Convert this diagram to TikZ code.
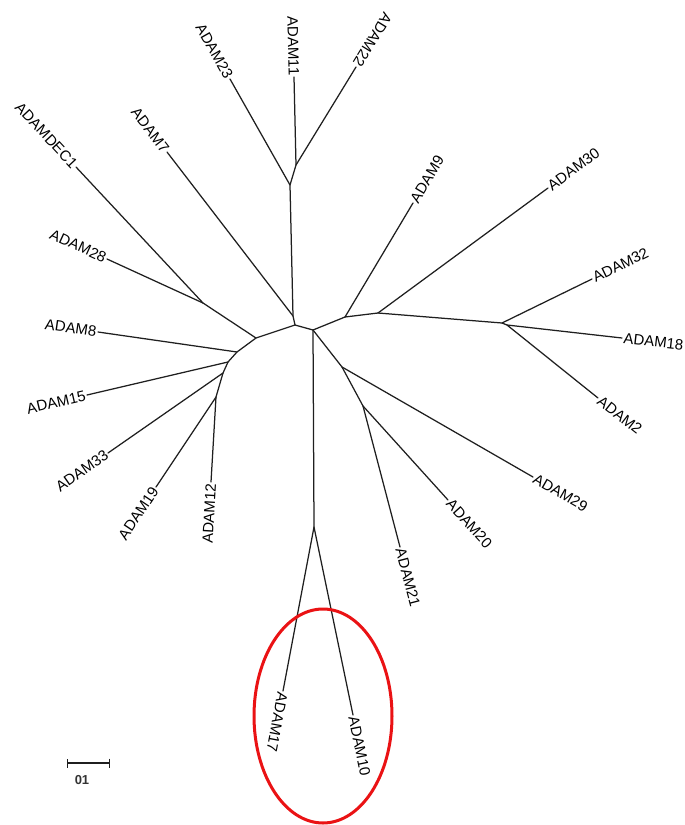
\documentclass[tikz,border=0pt]{standalone}
\usepackage{fontspec}
\setmainfont{Liberation Sans}
\usetikzlibrary{arrows.meta,shapes.geometric}
\definecolor{ringred}{RGB}{234,18,20}
\begin{document}
\begin{tikzpicture}[x=1pt,y=-1pt,
  br/.style={line width=1.25pt, black!88, line cap=round, line join=round},
  lbl/.style={font=\fontsize{15}{15}\selectfont, inner sep=1.5pt, text=black},
  lw/.style={lbl, anchor=west},
  le/.style={lbl, anchor=east}]
\useasboundingbox (0,0) rectangle (685,825);
% internal nodes
\coordinate (C) at (295,325);
\coordinate (J7) at (293,316);
\coordinate (J23) at (290,185);
\coordinate (J11) at (296,165);
\coordinate (JL1) at (256,338);
\coordinate (JD) at (203,303);
\coordinate (J8) at (237,352);
\coordinate (J15) at (228,362);
\coordinate (J33) at (223,373);
\coordinate (J19) at (216,397);
\coordinate (JR) at (313,330);
\coordinate (J9) at (345,317);
\coordinate (J30) at (378,313);
\coordinate (J32) at (502,323);
\coordinate (J18) at (507,325);
\coordinate (J29) at (342,367);
\coordinate (J20) at (363,406);
\coordinate (J17) at (314,527);
% tips
\coordinate (t23) at (230,79);
\coordinate (t11) at (294,77);
\coordinate (t22) at (356,67);
\coordinate (t7) at (167,152);
\coordinate (tDEC) at (76,167);
\coordinate (t28) at (107,259);
\coordinate (t8) at (98,332);
\coordinate (t15) at (87,395);
\coordinate (t33) at (108,453);
\coordinate (t19) at (156,487);
\coordinate (t12) at (211,482);
\coordinate (t9) at (413,203);
\coordinate (t30) at (548,188);
\coordinate (t32) at (592,279);
\coordinate (t18) at (622,338);
\coordinate (t2) at (598,398);
\coordinate (t29) at (533,477);
\coordinate (t20) at (448,500);
\coordinate (t21) at (400,547);
\coordinate (t17) at (283,691);
\coordinate (t10) at (353,715);
% branches
\draw[br] (C) -- (J7) -- (J23) -- (J11) -- (t11);
\draw[br] (J11) -- (t22);
\draw[br] (J23) -- (t23);
\draw[br] (J7) -- (t7);
\draw[br] (C) -- (JL1) -- (JD) -- (tDEC);
\draw[br] (JD) -- (t28);
\draw[br] (JL1) -- (J8) -- (t8);
\draw[br] (J8) -- (J15) -- (t15);
\draw[br] (J15) -- (J33) -- (t33);
\draw[br] (J33) -- (J19) -- (t19);
\draw[br] (J19) -- (t12);
\draw[br] (C) -- (JR) -- (J9) -- (t9);
\draw[br] (J9) -- (J30) -- (t30);
\draw[br] (J30) -- (J32) -- (t32);
\draw[br] (J32) -- (J18) -- (t18);
\draw[br] (J18) -- (t2);
\draw[br] (JR) -- (J29) -- (t29);
\draw[br] (J29) -- (J20) -- (t20);
\draw[br] (J20) -- (t21);
\draw[br] (JR) -- (J17) -- (t17);
\draw[br] (J17) -- (t10);
% labels
\node[le, rotate=-60.5] (l23) at (t23) {ADAM23};
\node[le, rotate=-88.7] (l11) at (t11) {ADAM11};
\node[le, rotate=-121.5] (l22) at (t22) {ADAM22};
\node[le, rotate=-47] (lDEC) at (tDEC) {ADAMDEC1};
\node[le, rotate=-52.3] (l7) at (t7) {ADAM7};
\node[le, rotate=-24.6] (l28) at (t28) {ADAM28};
\node[le, rotate=-8.2] (l8) at (t8) {ADAM8};
\node[le, rotate=13.2] (l15) at (t15) {ADAM15};
\node[le, rotate=34.8] (l33) at (t33) {ADAM33};
\node[le, rotate=56.3] (l19) at (t19) {ADAM19};
\node[le, rotate=86.6] (l12) at (t12) {ADAM12};
\node[lw, rotate=-100.7] (l17) at (t17) {ADAM17};
\node[lw, rotate=-78.3] (l10) at (t10) {ADAM10};
\node[lw, rotate=-75.3] (l21) at (t21) {ADAM21};
\node[lw, rotate=-47.9] (l20) at (t20) {ADAM20};
\node[lw, rotate=-29.9] (l29) at (t29) {ADAM29};
\node[lw, rotate=-38] (l2) at (t2) {ADAM2};
\node[lw, rotate=-6.4] (l18) at (t18) {ADAM18};
\node[lw, rotate=26] (l32) at (t32) {ADAM32};
\node[lw, rotate=36.3] (l30) at (t30) {ADAM30};
\node[lw, rotate=59.2] (l9) at (t9) {ADAM9};
% scale bar
\coordinate (s1) at (67,763);
\coordinate (s2) at (110,763);
\draw[br, line cap=butt, {Bar[width=9pt]}-{Bar[width=9pt]}] (s1) -- (s2);
\node[font=\fontsize{13}{13}\selectfont\bfseries, text=black!80] (sl) at (82,780) {01};
% highlight ring
\node[draw=ringred, line width=3pt, ellipse, minimum width=138pt, minimum height=214pt, inner sep=0pt] (ring) at (323,716) {};
\end{tikzpicture}
\end{document}
